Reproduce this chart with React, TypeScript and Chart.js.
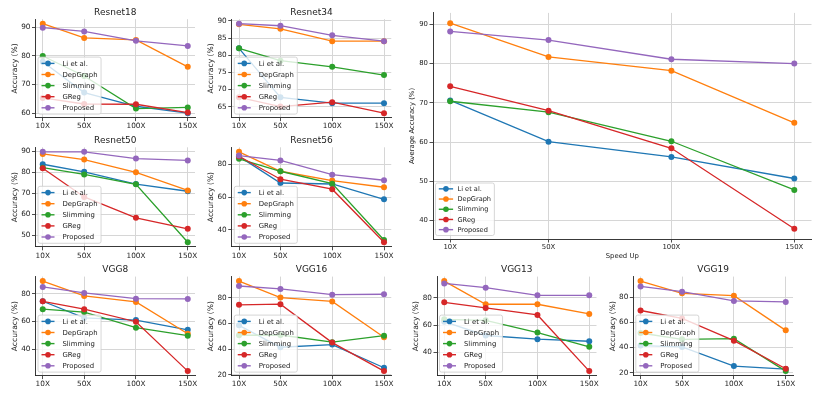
import React, { useEffect, useRef } from 'react';
import { Chart, registerables } from 'chart.js';

Chart.register(...registerables);

const speedups = [10, 50, 100, 150];
const methods = ['Li et al.', 'DepGraph', 'Slimming', 'GReg', 'Proposed'];
const palette = ['#1f77b4', '#ff7f0e', '#2ca02c', '#d62728', '#9467bd'];

// Resnet18
const r18Li = [78.0, 67.2, 62.4, 60.0];
const r18Dep = [91.3, 86.3, 85.6, 76.2];
const r18Slim = [80.0, 73.0, 61.6, 62.0];
const r18GReg = [65.3, 63.2, 63.1, 60.2];
const r18Prop = [89.9, 88.6, 85.3, 83.5];
const r18Ticks = [60, 70, 80, 90];

// Resnet34
const r34Li = [82.0, 67.7, 66.0, 66.0];
const r34Dep = [89.0, 87.7, 84.1, 84.1];
const r34Slim = [82.0, 78.4, 76.6, 74.2];
const r34GReg = [67.7, 65.0, 66.3, 63.1];
const r34Prop = [89.2, 88.6, 85.8, 84.1];
const r34Ticks = [65, 70, 75, 80, 85, 90];

// Resnet50
const r50Li = [83.8, 80.2, 74.4, 71.0];
const r50Dep = [88.7, 86.0, 80.0, 71.4];
const r50Slim = [82.2, 79.0, 74.3, 46.8];
const r50GReg = [81.9, 68.3, 58.4, 53.2];
const r50Prop = [89.7, 89.7, 86.5, 85.6];
const r50Ticks = [50, 60, 70, 80, 90];

// Resnet56
const r56Li = [85.0, 68.7, 68.1, 58.7];
const r56Dep = [87.8, 75.9, 70.2, 66.1];
const r56Slim = [83.5, 75.9, 68.3, 33.8];
const r56GReg = [85.1, 71.0, 64.9, 32.4];
const r56Prop = [85.5, 82.5, 73.8, 70.4];
const r56Ticks = [40, 60, 80];

// VGG8
const v8Li = [74.5, 62.5, 61.0, 54.0];
const v8Dep = [89.0, 78.3, 74.0, 51.2];
const v8Slim = [68.8, 66.7, 55.5, 49.8];
const v8GReg = [74.5, 68.8, 59.8, 24.3];
const v8Prop = [84.8, 80.5, 76.4, 76.2];
const v8Ticks = [40, 60, 80];

// VGG16
const v16Li = [58.5, 41.5, 43.6, 25.6];
const v16Dep = [92.8, 80.0, 77.0, 49.2];
const v16Slim = [50.8, 51.0, 45.4, 50.5];
const v16GReg = [74.4, 74.9, 45.1, 23.0];
const v16Prop = [89.0, 86.7, 82.3, 82.6];
const v16Ticks = [20, 40, 60, 80];

// VGG13
const v13Li = [62.5, 52.4, 49.7, 48.2];
const v13Dep = [92.1, 75.2, 75.2, 68.1];
const v13Slim = [64.2, 63.5, 54.5, 44.1];
const v13GReg = [76.6, 72.5, 67.4, 26.4];
const v13Prop = [90.4, 87.3, 81.7, 81.7];
const v13Ticks = [40, 60, 80];

// VGG19
const v19Li = [41.6, 40.5, 25.3, 22.9];
const v19Dep = [92.9, 83.2, 81.3, 53.7];
const v19Slim = [51.6, 46.6, 47.1, 21.3];
const v19GReg = [69.5, 63.2, 45.5, 23.2];
const v19Prop = [88.7, 84.5, 77.1, 76.3];
const v19Ticks = [20, 40, 60, 80];

// Average over models
const avgLi = [70.6, 60.1, 56.2, 50.7];
const avgDep = [90.3, 81.7, 78.2, 64.9];
const avgSlim = [70.4, 67.6, 60.2, 47.8];
const avgGReg = [74.2, 68.0, 58.4, 37.9];
const avgProp = [88.2, 86.0, 81.1, 80.0];
const avgTicks = [40, 50, 60, 70, 80, 90];

const FONT = 'DejaVu Sans';

function makeTitlePlugin(text?: string) {
  return {
    id: 'panelTitle',
    afterDraw(chart: any) {
      if (!text) return;
      const { ctx, chartArea } = chart;
      ctx.save();
      ctx.font = `9px "${FONT}"`;
      ctx.fillStyle = '#222';
      ctx.textAlign = 'center';
      ctx.textBaseline = 'alphabetic';
      ctx.fillText(text, (chartArea.left + chartArea.right) / 2, chartArea.top - 4.5);
      ctx.restore();
    },
  };
}

function makeLegendPlugin(font: number, rowH: number, padX: number, handleLen: number, gap: number) {
  return {
    id: 'boxLegend',
    afterDatasetsDraw(chart: any) {
      const { ctx, chartArea } = chart;
      ctx.save();
      ctx.font = `${font}px "${FONT}"`;
      const tw = Math.max(...methods.map((m) => ctx.measureText(m).width));
      const w = padX * 2 + handleLen + gap + tw;
      const h = rowH * 5 + 1.5;
      const x0 = chartArea.left + 2.5;
      const y0 = chartArea.bottom - 3.5 - h;
      ctx.beginPath();
      ctx.roundRect(x0, y0, w, h, 2);
      ctx.fillStyle = 'rgba(255,255,255,0.8)';
      ctx.fill();
      ctx.strokeStyle = '#cccccc';
      ctx.lineWidth = 0.8;
      ctx.stroke();
      const firstY = y0 + (h - 4 * rowH) / 2;
      methods.forEach((m, i) => {
        const y = firstY + i * rowH;
        ctx.strokeStyle = palette[i];
        ctx.lineWidth = 1.4;
        ctx.beginPath();
        ctx.moveTo(x0 + padX, y);
        ctx.lineTo(x0 + padX + handleLen, y);
        ctx.stroke();
        ctx.fillStyle = palette[i];
        ctx.beginPath();
        ctx.arc(x0 + padX + handleLen / 2, y, 2.8, 0, Math.PI * 2);
        ctx.fill();
        ctx.fillStyle = '#222';
        ctx.textAlign = 'left';
        ctx.textBaseline = 'middle';
        ctx.fillText(m, x0 + padX + handleLen + gap, y + 0.5);
      });
      ctx.restore();
    },
  };
}

type PanelProps = {
  title?: string;
  series: number[][];
  yTicks: number[];
  rect: [number, number, number, number];
  yLabel: string;
  xLabel?: string;
  big?: boolean;
};

function Panel({ title, series, yTicks, rect, yLabel, xLabel, big }: PanelProps) {
  const ref = useRef<HTMLCanvasElement>(null);
  const [l, t, r, b] = rect;
  const cl = Math.floor(l - 30);
  const ct = Math.floor(t - (title ? 20 : 8));
  const cr = Math.ceil(r + 10);
  const cb = Math.ceil(b + (xLabel ? 22 : 14));
  const W = cr - cl;
  const H = cb - ct;

  useEffect(() => {
    const canvas = ref.current!;
    const axisW = l - cl;
    const topPad = t - ct;
    const rightPad = cr - r;
    const xH = cb - b;
    const tickFont = big ? 6.9 : 7.3;
    const labelFont = big ? 6.9 : 7.6;
    const lh = labelFont * 1.2;
    const yTitlePad = Math.max(0, l - 20.5 - cl - lh / 2);
    const all = series.flat();
    const lo = Math.min(...all);
    const hi = Math.max(...all);
    const m = (hi - lo) * 0.05;

    const chart = new Chart(canvas, {
      type: 'line',
      data: {
        datasets: series.map((s, i) => ({
          label: methods[i],
          data: speedups.map((x, j) => ({ x, y: s[j] })),
          borderColor: palette[i],
          backgroundColor: palette[i],
          borderWidth: 1.3,
          pointRadius: 3,
          pointHoverRadius: 3,
          pointBorderWidth: 0,
          pointBackgroundColor: palette[i],
          order: 4 - i,
          tension: 0,
          fill: false,
        })),
      },
      options: {
        animation: false,
        responsive: false,
        devicePixelRatio: 1,
        events: [],
        layout: { padding: { top: topPad, right: rightPad, left: 0, bottom: 0 } },
        plugins: {
          legend: { display: false },
          tooltip: { enabled: false },
          title: { display: false },
        },
        scales: {
          x: {
            type: 'linear',
            min: 3,
            max: 157,
            afterBuildTicks: (s: any) => {
              s.ticks = speedups.map((v) => ({ value: v }));
            },
            afterFit: (s: any) => {
              s.height = xH;
              s.paddingLeft = 0;
              s.paddingRight = 0;
            },
            ticks: {
              callback: (v: any) => `${v}X`,
              autoSkip: false,
              maxRotation: 0,
              font: { family: FONT, size: tickFont },
              color: '#222',
              padding: 1,
            },
            grid: { color: '#d6d6d6', lineWidth: 1, tickLength: 3.5, tickColor: '#222', tickWidth: 0.8 },
            border: { display: true, color: '#222', width: 0.9 },
            title: xLabel
              ? { display: true, text: xLabel, font: { family: FONT, size: labelFont }, color: '#222', padding: { top: 0, bottom: 1 } }
              : { display: false },
          },
          y: {
            type: 'linear',
            min: lo - m,
            max: hi + m,
            afterBuildTicks: (s: any) => {
              s.ticks = yTicks.map((v) => ({ value: v }));
            },
            afterFit: (s: any) => {
              s.width = axisW;
              s.paddingTop = 0;
              s.paddingBottom = 0;
            },
            ticks: {
              callback: (v: any) => `${v}`,
              autoSkip: false,
              font: { family: FONT, size: tickFont },
              color: '#222',
              padding: 1.5,
            },
            grid: { color: '#d6d6d6', lineWidth: 1, tickLength: 3.5, tickColor: '#222', tickWidth: 0.8 },
            border: { display: true, color: '#222', width: 0.9 },
            title: {
              display: true,
              text: yLabel,
              font: { family: FONT, size: labelFont },
              color: '#222',
              padding: { top: yTitlePad, bottom: 0 },
            },
          },
        },
      } as any,
      plugins: [
        makeTitlePlugin(title),
        big ? makeLegendPlugin(6.6, 10.2, 3.3, 14.3, 4.4) : makeLegendPlugin(6.9, 11.1, 3.5, 13, 8),
      ],
    });
    return () => chart.destroy();
  }, []);

  return (
    <canvas
      ref={ref}
      width={W}
      height={H}
      style={{ position: 'absolute', left: cl, top: ct, width: W, height: H }}
    />
  );
}

const col1: [number, number] = [35.5, 195];
const col2: [number, number] = [231.75, 391.25];
const col3: [number, number] = [437, 596.5];
const col4: [number, number] = [633.3, 793];
const row1: [number, number] = [19.2, 117.6];
const row2: [number, number] = [147.3, 246.8];
const row3: [number, number] = [276.6, 375.6];

function rc(c: [number, number], r: [number, number]): [number, number, number, number] {
  return [c[0], r[0], c[1], r[1]];
}

export default function App() {
  const acc = 'Accuracy (%)';
  return (
    <div style={{ position: 'absolute', left: 0, top: 0, width: 822, height: 395, background: '#fff', overflow: 'hidden' }}>
      <Panel title="Resnet18" series={[r18Li, r18Dep, r18Slim, r18GReg, r18Prop]} yTicks={r18Ticks} rect={rc(col1, row1)} yLabel={acc} />
      <Panel title="Resnet34" series={[r34Li, r34Dep, r34Slim, r34GReg, r34Prop]} yTicks={r34Ticks} rect={rc(col2, row1)} yLabel={acc} />
      <Panel title="Resnet50" series={[r50Li, r50Dep, r50Slim, r50GReg, r50Prop]} yTicks={r50Ticks} rect={rc(col1, row2)} yLabel={acc} />
      <Panel title="Resnet56" series={[r56Li, r56Dep, r56Slim, r56GReg, r56Prop]} yTicks={r56Ticks} rect={rc(col2, row2)} yLabel={acc} />
      <Panel series={[avgLi, avgDep, avgSlim, avgGReg, avgProp]} yTicks={avgTicks} rect={[433, 12.9, 811.5, 239]} yLabel="Average Accuracy (%)" xLabel="Speed Up" big />
      <Panel title="VGG8" series={[v8Li, v8Dep, v8Slim, v8GReg, v8Prop]} yTicks={v8Ticks} rect={rc(col1, row3)} yLabel={acc} />
      <Panel title="VGG16" series={[v16Li, v16Dep, v16Slim, v16GReg, v16Prop]} yTicks={v16Ticks} rect={rc(col2, row3)} yLabel={acc} />
      <Panel title="VGG13" series={[v13Li, v13Dep, v13Slim, v13GReg, v13Prop]} yTicks={v13Ticks} rect={rc(col3, row3)} yLabel={acc} />
      <Panel title="VGG19" series={[v19Li, v19Dep, v19Slim, v19GReg, v19Prop]} yTicks={v19Ticks} rect={rc(col4, row3)} yLabel={acc} />
    </div>
  );
}
